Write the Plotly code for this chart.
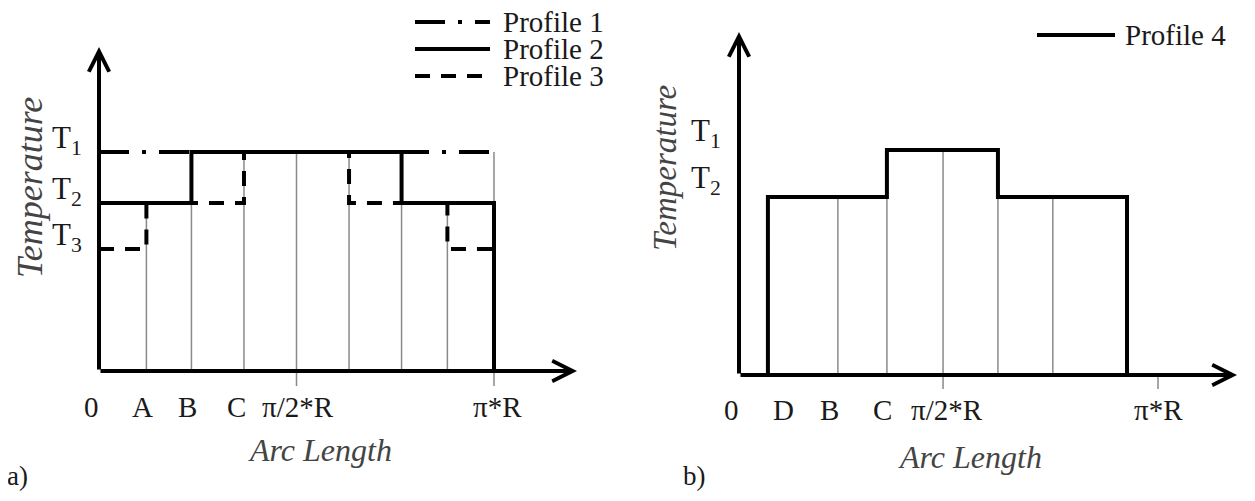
import plotly.graph_objects as go

# ---------------- data ----------------
# Panel a) positions along the arc (fraction of pi*R)
a_pos_names = ["0", "A", "B", "C", "π/2*R", "π*R"]
a_label_pos = [-0.018, 0.111, 0.223, 0.347, 0.504, 1.01]
a_T_names = ["T<sub>1</sub>", "T<sub>2</sub>", "T<sub>3</sub>"]
a_T_vals = [1.0, 0.767, 0.557]

# step profiles (x = breakpoints, y = level reached at that breakpoint, 'hv' steps)
p1_x = [0.0, 1.0]
p1_y = [1.0, 1.0]
p2_x = [0.0, 0.234, 0.766, 1.0]
p2_y = [0.767, 1.0, 0.767, 0.0]
p3_x = [0.0, 0.12, 0.367, 0.633, 0.882, 1.0]
p3_y = [0.557, 0.767, 1.0, 0.767, 0.557, 0.557]

# thin guide lines (position, top level)
a_guide_x = [0.12, 0.234, 0.367, 0.5, 0.633, 0.766, 0.882, 1.0]
a_guide_top = [0.767, 0.767, 1.0, 1.0, 1.0, 0.767, 0.767, 1.0]
a_tick_x = [0.5, 1.0]

# Panel b)
b_pos_names = ["0", "D", "B", "C", "π/2*R", "π*R"]
b_label_pos = [-0.017, 0.105, 0.217, 0.343, 0.497, 1.0]
b_T_names = ["T<sub>1</sub>", "T<sub>2</sub>"]
b_T_vals = [1.0, 0.791]

p4_x = [0.069, 0.069, 0.353, 0.618, 0.926]
p4_y = [0.0, 0.791, 1.0, 0.791, 0.0]

b_guide_x = [0.236, 0.353, 0.487, 0.618, 0.749]
b_guide_top = [0.791, 0.791, 1.0, 0.791, 0.791]
b_tick_x = [0.487, 1.0]

# ---------------- layout geometry (page pixels) ----------------
OFF = 8                      # default page margin around the figure div
W, H = 1255 - 2 * OFF, 501 - 2 * OFF
FONT = "Liberation Serif, Times New Roman, serif"

A_X0, A_XU, A_XR = 99, 395, [-0.08, 1.25]
A_Y0, A_YU, A_YR = 371, 219, [-0.12, 1.5]
B_X0, B_XU, B_XR = 739, 419, [-0.08, 1.18]
B_Y0, B_YU, B_YR = 375, 225, [-0.12, 1.55]


def xdom(x0, u, r):
    return [(x0 - OFF + r[0] * u) / W, (x0 - OFF + r[1] * u) / W]


def ydom(y0, u, r):
    return [1 - (y0 - OFF - r[0] * u) / H, 1 - (y0 - OFF - r[1] * u) / H]


def px(x):
    return (x - OFF) / W


def py(y):
    return 1 - (y - OFF) / H


fig = go.Figure()


def seg_trace(xs, tops, bottom, xa, ya, color="#8a8a8a", width=1.5):
    X, Y = [], []
    for x, t in zip(xs, tops):
        X += [x, x, None]
        Y += [bottom, t, None]
    fig.add_trace(go.Scatter(x=X, y=Y, mode="lines", xaxis=xa, yaxis=ya,
                             line=dict(color=color, width=width),
                             hoverinfo="skip", showlegend=False))


# panel a guides and ticks
seg_trace(a_guide_x, a_guide_top, 0.0, "x", "y")
seg_trace(a_tick_x, [-15 / A_YU] * len(a_tick_x), 0.0, "x", "y")
# panel b guides and ticks
seg_trace(b_guide_x, b_guide_top, 0.0, "x2", "y2")
seg_trace(b_tick_x, [-14 / B_YU] * len(b_tick_x), 0.0, "x2", "y2")

DASHDOT = "30px,13px,4px,13px"
DASH = "15px,11px"

fig.add_trace(go.Scatter(x=p1_x, y=p1_y, mode="lines", line_shape="hv", name="Profile 1",
                         line=dict(color="black", width=4, dash=DASHDOT),
                         xaxis="x", yaxis="y", showlegend=False))
fig.add_trace(go.Scatter(x=p3_x, y=p3_y, mode="lines", line_shape="hv", name="Profile 3",
                         line=dict(color="black", width=4, dash=DASH),
                         xaxis="x", yaxis="y", showlegend=False))
fig.add_trace(go.Scatter(x=p2_x, y=p2_y, mode="lines", line_shape="hv", name="Profile 2",
                         line=dict(color="black", width=4),
                         xaxis="x", yaxis="y", showlegend=False))
fig.add_trace(go.Scatter(x=p4_x, y=p4_y, mode="lines", line_shape="hv", name="Profile 4",
                         line=dict(color="black", width=4),
                         xaxis="x2", yaxis="y2", showlegend=False))

ann = []
shapes = []


def arrow(xr, yr, x, y, ax, ay):
    ann.append(dict(xref=xr, yref=yr, axref=xr, ayref=yr, x=x, y=y, ax=ax, ay=ay,
                    text="", showarrow=True, arrowhead=5, arrowsize=1.0,
                    arrowwidth=4, arrowcolor="black"))


# axes arrows
arrow("x", "y", (577 - A_X0) / A_XU, 0, 0, 0)
arrow("x", "y", 0, (A_Y0 - 47) / A_YU, 0, 0)
arrow("x2", "y2", (1237 - B_X0) / B_XU, 0, 0, 0)
arrow("x2", "y2", 0, (B_Y0 - 32) / B_YU, 0, 0)

TXT = "#1a1a1a"
GRAY = "#444444"

# x tick labels
for name, v in zip(a_pos_names, a_label_pos):
    ann.append(dict(xref="x", yref="y", x=v, y=0, text=name, showarrow=False,
                    xanchor="center", yanchor="middle", yshift=-36,
                    font=dict(family=FONT, size=29, color=TXT)))
for name, v in zip(b_pos_names, b_label_pos):
    ann.append(dict(xref="x2", yref="y2", x=v, y=0, text=name, showarrow=False,
                    xanchor="center", yanchor="middle", yshift=-35,
                    font=dict(family=FONT, size=29, color=TXT)))

# y level labels
for name, v in zip(a_T_names, a_T_vals):
    ann.append(dict(xref="x", yref="y", x=0, y=v, text=name, showarrow=False,
                    xanchor="right", yanchor="middle", xshift=-15, yshift=12,
                    font=dict(family=FONT, size=31, color=TXT)))
for name, v in zip(b_T_names, b_T_vals):
    ann.append(dict(xref="x2", yref="y2", x=0, y=v, text=name, showarrow=False,
                    xanchor="right", yanchor="middle", xshift=-16, yshift=17,
                    font=dict(family=FONT, size=31, color=TXT)))

# axis titles
for (cx, cy) in [(320, 450), (970, 457)]:
    ann.append(dict(xref="paper", yref="paper", x=px(cx), y=py(cy), text="<i>Arc Length</i>",
                    showarrow=False, xanchor="center", yanchor="middle",
                    font=dict(family=FONT, size=32, color=GRAY)))
for (cx, cy, fs) in [(30, 188, 36), (665, 168, 33)]:
    ann.append(dict(xref="paper", yref="paper", x=px(cx), y=py(cy), text="<i>Temperature</i>",
                    showarrow=False, xanchor="center", yanchor="middle", textangle=-90,
                    font=dict(family=FONT, size=fs, color=GRAY)))

# panel letters (sit on the bottom edge of the figure)
for (cx, t) in [(18, "a)"), (694, "b)")]:
    ann.append(dict(xref="paper", yref="paper", x=px(cx), y=0, text=t,
                    showarrow=False, xanchor="center", yanchor="bottom",
                    font=dict(family=FONT, size=27, color=TXT)))

# manual legends
LEG_FS = 29
legend_a = [("Profile 1", DASHDOT, 22), ("Profile 2", "solid", 49), ("Profile 3", DASH, 76)]
for name, dash, yy in legend_a:
    shapes.append(dict(type="line", xref="paper", yref="paper", x0=px(415), x1=px(490),
                       y0=py(yy), y1=py(yy), line=dict(color="black", width=4, dash=dash)))
    ann.append(dict(xref="paper", yref="paper", x=px(501), y=py(yy), text=name,
                    showarrow=False, xanchor="left", yanchor="middle",
                    font=dict(family=FONT, size=LEG_FS, color=TXT)))
shapes.append(dict(type="line", xref="paper", yref="paper", x0=px(1037), x1=px(1115),
                   y0=py(35), y1=py(35), line=dict(color="black", width=4)))
ann.append(dict(xref="paper", yref="paper", x=px(1123), y=py(35), text="Profile 4",
                showarrow=False, xanchor="left", yanchor="middle",
                font=dict(family=FONT, size=LEG_FS, color=TXT)))

ax_common = dict(visible=False, showgrid=False, zeroline=False, fixedrange=True)
fig.update_layout(
    width=W, height=H, autosize=False,
    margin=dict(l=0, r=0, t=0, b=0),
    paper_bgcolor="white", plot_bgcolor="white",
    showlegend=False,
    xaxis=dict(domain=xdom(A_X0, A_XU, A_XR), range=A_XR, anchor="y", **ax_common),
    yaxis=dict(domain=ydom(A_Y0, A_YU, A_YR), range=A_YR, anchor="x", **ax_common),
    xaxis2=dict(domain=xdom(B_X0, B_XU, B_XR), range=B_XR, anchor="y2", **ax_common),
    yaxis2=dict(domain=ydom(B_Y0, B_YU, B_YR), range=B_YR, anchor="x2", **ax_common),
    annotations=ann,
    shapes=shapes,
)

fig.write_html("out.html", config={"displayModeBar": False})
